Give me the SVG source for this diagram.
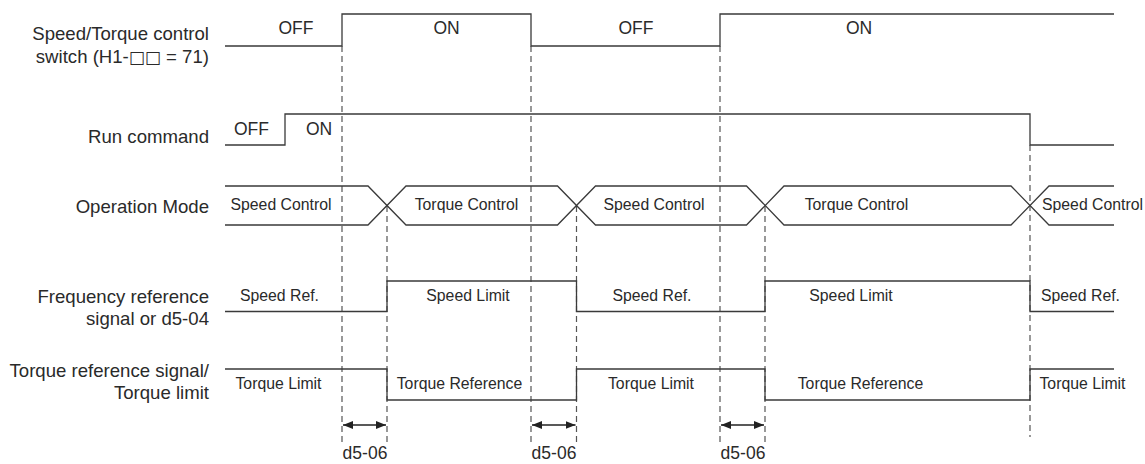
<svg xmlns="http://www.w3.org/2000/svg" width="1145" height="464" viewBox="0 0 1145 464">
<defs>
<style>
.lbl{font-family:"Liberation Sans",Arial,sans-serif;font-size:18.6px;fill:#2a2a2a;text-anchor:end}
.box{font-family:"DejaVu Sans",sans-serif;font-size:17px}
.st{font-family:"Liberation Sans",Arial,sans-serif;font-size:17.5px;fill:#2a2a2a;text-anchor:middle}
.in{font-family:"Liberation Sans",Arial,sans-serif;font-size:15.8px;fill:#2a2a2a;text-anchor:middle}
.sig{fill:none;stroke:#3a3a3a;stroke-width:1.3;stroke-linejoin:miter}
.dash{fill:none;stroke:#555;stroke-width:1.2;stroke-dasharray:6,4}
.arr{fill:none;stroke:#222;stroke-width:1.3}
</style>
<marker id="ah" viewBox="0 0 10 8" refX="10" refY="4" markerWidth="10" markerHeight="8" markerUnits="userSpaceOnUse" orient="auto-start-reverse">
<path d="M0,0 L10,4 L0,8 Z" fill="#222"/>
</marker>
</defs>
<rect width="1145" height="464" fill="#fff"/>

<g id="label-switch">
<text class="lbl" x="209" y="40">Speed/Torque control</text>
<text class="lbl" x="209" y="63">switch (H1-<tspan class="box">□□</tspan> = 71)</text>
</g>
<g id="label-run"><text class="lbl" x="209" y="143">Run command</text></g>
<g id="label-opmode"><text class="lbl" x="209" y="213">Operation Mode</text></g>
<g id="label-freq">
<text class="lbl" x="209" y="303">Frequency reference</text>
<text class="lbl" x="209" y="325">signal or d5-04</text>
</g>
<g id="label-torque">
<text class="lbl" x="209" y="377">Torque reference signal/</text>
<text class="lbl" x="209" y="399">Torque limit</text>
</g>

<g id="connectors">
<line class="dash" x1="342" y1="46" x2="342" y2="444"/>
<line class="dash" x1="387" y1="206" x2="387" y2="444"/>
<line class="dash" x1="531" y1="46" x2="531" y2="444"/>
<line class="dash" x1="576.5" y1="206" x2="576.5" y2="444"/>
<line class="dash" x1="720" y1="46" x2="720" y2="444"/>
<line class="dash" x1="765" y1="206" x2="765" y2="444"/>
<line class="dash" x1="1030" y1="145" x2="1030" y2="437"/>
<line class="arr" x1="343" y1="425" x2="386" y2="425" marker-start="url(#ah)" marker-end="url(#ah)"/>
<line class="arr" x1="532" y1="425" x2="575.5" y2="425" marker-start="url(#ah)" marker-end="url(#ah)"/>
<line class="arr" x1="721" y1="425" x2="764" y2="425" marker-start="url(#ah)" marker-end="url(#ah)"/>
</g>

<g id="signal-switch">
<polyline class="sig" points="225,46 342,46 342,14 531,14 531,46 720,46 720,14 1114,14"/>
<text class="st" x="296" y="34">OFF</text>
<text class="st" x="446.5" y="34">ON</text>
<text class="st" x="636" y="34">OFF</text>
<text class="st" x="859" y="34">ON</text>
</g>

<g id="signal-run">
<polyline class="sig" points="225,145 285,145 285,114 1030,114 1030,145 1114,145"/>
<text class="st" x="251.5" y="135">OFF</text>
<text class="st" x="319" y="135">ON</text>
</g>

<g id="signal-opmode">
<path class="sig" d="M225,186 H368 L406,225 H557.5 L595.5,186 H746.5 L784,225 H1011 L1049,186 H1114"/>
<path class="sig" d="M225,225 H368 L406,186 H557.5 L595.5,225 H746.5 L784,186 H1011 L1049,225 H1114"/>
<text class="in" x="281" y="210">Speed Control</text>
<text class="in" x="466.5" y="210">Torque Control</text>
<text class="in" x="654" y="210">Speed Control</text>
<text class="in" x="856.5" y="210">Torque Control</text>
<text class="in" x="1092.5" y="210">Speed Control</text>
</g>

<g id="signal-freq">
<polyline class="sig" points="225,311.5 387,311.5 387,281 576.5,281 576.5,311.5 765,311.5 765,281 1030,281 1030,311.5 1114,311.5"/>
<text class="in" x="279.5" y="301">Speed Ref.</text>
<text class="in" x="468" y="301">Speed Limit</text>
<text class="in" x="652" y="301">Speed Ref.</text>
<text class="in" x="851" y="301">Speed Limit</text>
<text class="in" x="1080.5" y="301">Speed Ref.</text>
</g>

<g id="signal-torque">
<polyline class="sig" points="225,369 387,369 387,400 576.5,400 576.5,369 765,369 765,400 1030,400 1030,369 1114,369"/>
<text class="in" x="278.5" y="389">Torque Limit</text>
<text class="in" x="459.5" y="389">Torque Reference</text>
<text class="in" x="651" y="389">Torque Limit</text>
<text class="in" x="860.5" y="389">Torque Reference</text>
<text class="in" x="1082.5" y="389">Torque Limit</text>
</g>

<g id="label-d506">
<text class="st" x="365" y="459">d5-06</text>
<text class="st" x="554" y="459">d5-06</text>
<text class="st" x="743" y="459">d5-06</text>
</g>
</svg>
